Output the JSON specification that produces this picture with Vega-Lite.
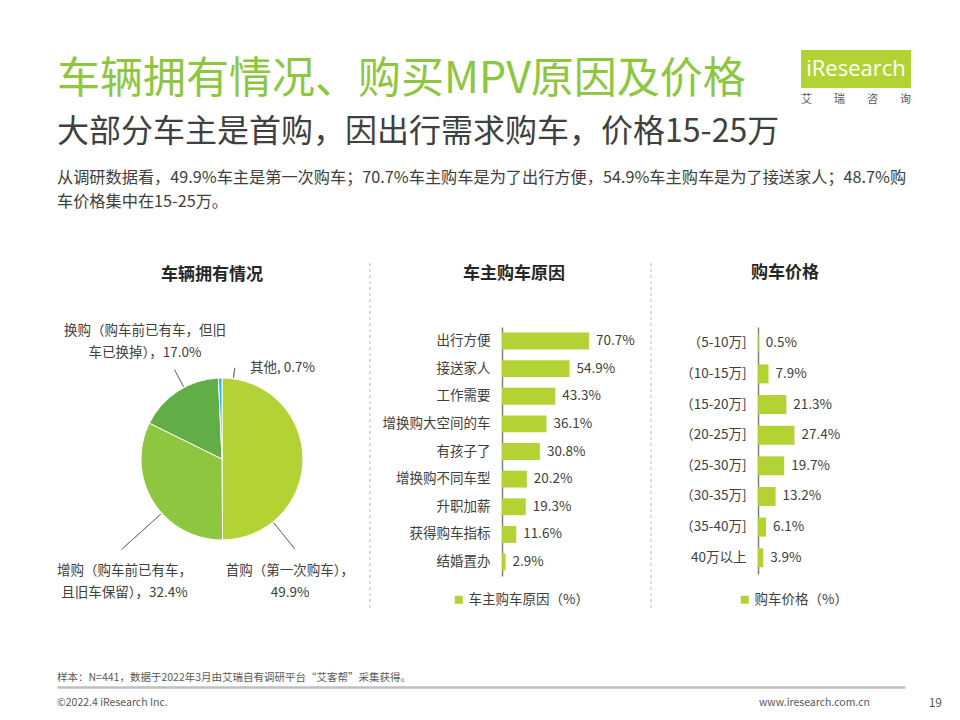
{
  "$schema": "https://vega.github.io/schema/vega-lite/v6.json",
  "padding": {"left": 56, "top": 50, "right": 0, "bottom": 0},
  "background": "white",
  "config": {
    "font": "Noto Sans CJK SC",
    "view": {"stroke": null},
    "axis": {"grid": false}
  },
  "datasets": {
    "ownership": [
      {"类型": "首购", "占比": 0.499, "序": 1, "标签": "首购（第一次购车），\n49.9%"},
      {"类型": "增购", "占比": 0.324, "序": 2, "标签": "增购（购车前已有车，\n且旧车保留），32.4%"},
      {"类型": "换购", "占比": 0.170, "序": 3, "标签": "换购（购车前已有车，但旧\n车已换掉），17.0%"},
      {"类型": "其他", "占比": 0.007, "序": 4, "标签": "其他, 0.7%"}
    ],
    "reasons": [
      {"原因": "出行方便", "占比": 0.707},
      {"原因": "接送家人", "占比": 0.549},
      {"原因": "工作需要", "占比": 0.433},
      {"原因": "增换购大空间的车", "占比": 0.361},
      {"原因": "有孩子了", "占比": 0.308},
      {"原因": "增换购不同车型", "占比": 0.202},
      {"原因": "升职加薪", "占比": 0.193},
      {"原因": "获得购车指标", "占比": 0.116},
      {"原因": "结婚置办", "占比": 0.029}
    ],
    "prices": [
      {"价格": "（5-10万]", "占比": 0.005},
      {"价格": "（10-15万]", "占比": 0.079},
      {"价格": "（15-20万]", "占比": 0.213},
      {"价格": "（20-25万]", "占比": 0.274},
      {"价格": "（25-30万]", "占比": 0.197},
      {"价格": "（30-35万]", "占比": 0.132},
      {"价格": "（35-40万]", "占比": 0.061},
      {"价格": "40万以上", "占比": 0.039}
    ],
    "logo": [{"品牌": "iResearch"}],
    "footer": [
      {"类": "版权", "位置": "左", "文字": "©2022.4 iResearch Inc."},
      {"类": "网址", "位置": "右", "文字": "www.iresearch.com.cn"},
      {"类": "页码", "位置": "右", "文字": "19"}
    ],
    "blank": [{}]
  },
  "resolve": {"scale": {"color": "independent"}, "legend": {"color": "independent"}},
  "spacing": 22,
  "vconcat": [
    {
      "spacing": 15,
      "resolve": {"scale": {"color": "independent"}, "legend": {"color": "independent"}},
      "hconcat": [
        {
          "data": {"values": []},
          "mark": "text",
          "width": 729,
          "height": 1,
          "title": {
            "text": "车辆拥有情况、购买MPV原因及价格",
            "subtitle": "大部分车主是首购，因出行需求购车，价格15-25万",
            "orient": "bottom",
            "anchor": "start",
            "frame": "group",
            "fontSize": 43,
            "fontWeight": "normal",
            "color": "#8DC63F",
            "subtitleFontSize": 32,
            "subtitleFontWeight": "normal",
            "subtitleColor": "#404040",
            "subtitlePadding": 15,
            "offset": 8
          }
        },
        {
          "width": 110,
          "height": 38,
          "data": {"name": "logo"},
          "title": {
            "text": "艾　　瑞　　咨　　询",
            "orient": "bottom",
            "anchor": "start",
            "frame": "group",
            "fontSize": 11,
            "fontWeight": "normal",
            "color": "#595959",
            "offset": 6
          },
          "layer": [
            {"mark": {"type": "rect", "color": "#B3D334"}, "encoding": {}},
            {
              "mark": {"type": "text", "color": "#FFFFFF", "fontSize": 22, "font": "Open Sans", "align": "center", "baseline": "middle"},
              "encoding": {"text": {"field": "品牌"}}
            }
          ]
        }
      ]
    },
    {
      "spacing": 60,
      "resolve": {"scale": {"color": "independent"}, "legend": {"color": "independent"}},
      "vconcat": [
        {
          "title": {
            "text": [
              "从调研数据看，49.9%车主是第一次购车；70.7%车主购车是为了出行方便，54.9%车主购车是为了接送家人；48.7%购",
              "车价格集中在15-25万。"
            ],
            "anchor": "start",
            "fontSize": 16.2,
            "fontWeight": "normal",
            "color": "#404040",
            "lineHeight": 24,
            "offset": 52
          },
          "spacing": 27,
          "resolve": {"scale": {"color": "independent"}, "legend": {"color": "independent"}},
          "hconcat": [
            {
              "spacing": -5,
              "align": "none",
              "resolve": {"scale": {"color": "independent"}, "legend": {"color": "independent"}},
              "hconcat": [
                {
                  "spacing": -18,
                  "align": "none",
                  "resolve": {"scale": {"color": "independent"}, "legend": {"color": "independent"}},
                  "hconcat": [
                    {
                      "width": 330,
                      "height": 264,
                      "data": {"name": "ownership"},
                      "transform": [
                        {"stack": "占比", "groupby": [], "sort": [{"field": "序", "order": "ascending"}], "as": ["始", "终"]}
                      ],
                      "title": {"text": "车辆拥有情况", "fontSize": 17, "fontWeight": "bold", "color": "#262626", "frame": "group", "anchor": "middle", "dx": -10, "offset": 40},
                      "encoding": {
                        "theta": {"field": "始", "type": "quantitative", "stack": false, "scale": {"domain": [0, 1]}}
                      },
                      "layer": [
                        {
                          "mark": {"type": "arc", "outerRadius": 81, "stroke": "#FFFFFF", "strokeWidth": 1},
                          "encoding": {
                            "theta2": {"field": "终"},
                            "color": {
                              "field": "类型",
                              "type": "nominal",
                              "scale": {"domain": ["首购", "增购", "换购", "其他"], "range": ["#B3D334", "#8DC63F", "#62AD45", "#29B6E3"]},
                              "legend": null
                            }
                          }
                        },
                        {
                          "transform": [{"filter": "datum['类型'] === '首购'"}],
                          "mark": {"type": "arc", "radius": 116, "radius2": 82, "padAngle": 3.1416, "thetaOffset": 0.8933, "theta2Offset": 0.8933, "fillOpacity": 0, "stroke": "#7F7F7F", "strokeWidth": 1},
                          "encoding": {"theta2": {"field": "终"}}
                        },
                        {
                          "transform": [{"filter": "datum['类型'] === '增购'"}],
                          "mark": {"type": "arc", "radius": 135, "radius2": 82, "padAngle": 3.1416, "thetaOffset": -0.1738, "theta2Offset": -0.1738, "fillOpacity": 0, "stroke": "#7F7F7F", "strokeWidth": 1},
                          "encoding": {"theta2": {"field": "终"}}
                        },
                        {
                          "transform": [{"filter": "datum['类型'] === '换购'"}],
                          "mark": {"type": "arc", "radius": 101, "radius2": 82, "padAngle": 3.1416, "thetaOffset": 0.0894, "theta2Offset": 0.0894, "fillOpacity": 0, "stroke": "#7F7F7F", "strokeWidth": 1},
                          "encoding": {"theta2": {"field": "终"}}
                        },
                        {
                          "transform": [{"filter": "datum['类型'] === '其他'"}],
                          "mark": {"type": "arc", "radius": 92, "radius2": 82, "padAngle": 3.1416, "thetaOffset": 0.1616, "theta2Offset": 0.1616, "fillOpacity": 0, "stroke": "#7F7F7F", "strokeWidth": 1},
                          "encoding": {"theta2": {"field": "终"}}
                        },
                        {
                          "transform": [{"filter": "datum['类型'] === '首购'"}],
                          "mark": {"type": "text", "radius": 131, "thetaOffset": 2.596, "align": "center", "baseline": "middle", "fontSize": 13.5, "color": "#404040", "lineBreak": "\n", "lineHeight": 22},
                          "encoding": {"text": {"field": "标签"}}
                        },
                        {
                          "transform": [{"filter": "datum['类型'] === '增购'"}],
                          "mark": {"type": "text", "radius": 148.5, "thetaOffset": 0.7226, "align": "center", "baseline": "middle", "fontSize": 13.5, "color": "#404040", "lineBreak": "\n", "lineHeight": 22},
                          "encoding": {"text": {"field": "标签"}}
                        },
                        {
                          "transform": [{"filter": "datum['类型'] === '换购'"}],
                          "mark": {"type": "text", "radius": 149.4, "thetaOffset": 0.5706, "align": "center", "baseline": "middle", "fontSize": 13.5, "color": "#404040", "lineBreak": "\n", "lineHeight": 22},
                          "encoding": {"text": {"field": "标签"}}
                        },
                        {
                          "transform": [{"filter": "datum['类型'] === '其他'"}],
                          "mark": {"type": "text", "radius": 95.2, "thetaOffset": 0.3424, "align": "left", "baseline": "middle", "fontSize": 13.5, "color": "#404040"},
                          "encoding": {"text": {"field": "标签"}}
                        }
                      ]
                    },
                    {
                      "width": 1,
                      "height": 249,
                      "data": {"name": "blank"},
                      "mark": {"type": "rule", "color": "#BFBFBF", "strokeDash": [3, 3], "strokeWidth": 1},
                      "encoding": {
                        "x": {"datum": 0, "type": "quantitative", "scale": {"domain": [0, 1]}, "axis": null},
                        "y": {"datum": 313, "type": "quantitative", "scale": {"domain": [0, 249], "nice": false, "zero": false}, "axis": null},
                        "y2": {"datum": -35}
                      }
                    }
                  ]
                },
                {
                  "spacing": 14,
                  "resolve": {"scale": {"color": "independent"}, "legend": {"color": "independent"}},
                  "hconcat": [
                    {
                      "width": 134,
                      "height": 249,
                      "data": {"name": "reasons"},
                      "title": {"text": "车主购车原因", "fontSize": 17, "fontWeight": "bold", "color": "#262626", "anchor": "middle", "dx": -55, "offset": 44},
                      "encoding": {
                        "y": {
                          "field": "原因",
                          "type": "nominal",
                          "sort": null,
                          "scale": {"paddingInner": 0.39, "paddingOuter": 0.2},
                          "axis": {"title": null, "ticks": false, "domainColor": "#7F7F7F", "domainWidth": 1.5, "labelFontSize": 13.5, "labelColor": "#404040", "labelPadding": 12}
                        },
                        "x": {"field": "占比", "type": "quantitative", "scale": {"domain": [0, 1.0894], "nice": false}, "axis": null}
                      },
                      "layer": [
                        {
                          "mark": {"type": "bar"},
                          "encoding": {
                            "color": {
                              "datum": "车主购车原因（%）",
                              "scale": {"range": ["#B3D334"]},
                              "legend": {"orient": "none", "legendX": -50, "legendY": 266, "direction": "horizontal", "title": null, "symbolType": "square", "symbolSize": 64, "symbolStrokeWidth": 0, "labelFontSize": 13.5, "labelColor": "#404040", "labelOffset": 3, "padding": 0}
                            }
                          }
                        },
                        {
                          "mark": {"type": "text", "align": "left", "baseline": "middle", "dx": 7, "fontSize": 13.5, "color": "#404040"},
                          "encoding": {"text": {"field": "占比", "type": "quantitative", "format": ".1%"}}
                        }
                      ]
                    },
                    {
                      "width": 1,
                      "height": 249,
                      "data": {"name": "blank"},
                      "mark": {"type": "rule", "color": "#BFBFBF", "strokeDash": [3, 3], "strokeWidth": 1},
                      "encoding": {
                        "x": {"datum": 0, "type": "quantitative", "scale": {"domain": [0, 1]}, "axis": null},
                        "y": {"datum": 313, "type": "quantitative", "scale": {"domain": [0, 249], "nice": false, "zero": false}, "axis": null},
                        "y2": {"datum": -35}
                      }
                    }
                  ]
                }
              ]
            },
            {
              "width": 130,
              "height": 247,
              "data": {"name": "prices"},
              "title": {"text": "购车价格", "fontSize": 17, "fontWeight": "bold", "color": "#262626", "anchor": "middle", "dx": -38, "offset": 45},
              "encoding": {
                "y": {
                  "field": "价格",
                  "type": "nominal",
                  "sort": null,
                  "scale": {"paddingInner": 0.38, "paddingOuter": 0.22},
                  "axis": {"title": null, "ticks": false, "domainColor": "#7F7F7F", "domainWidth": 1.5, "labelFontSize": 13.5, "labelColor": "#404040", "labelPadding": 12}
                },
                "x": {"field": "占比", "type": "quantitative", "scale": {"domain": [0, 0.977], "nice": false}, "axis": null}
              },
              "layer": [
                {
                  "mark": {"type": "bar"},
                  "encoding": {
                    "color": {
                      "datum": "购车价格（%）",
                      "scale": {"range": ["#B3D334"]},
                      "legend": {"orient": "none", "legendX": -20, "legendY": 266, "direction": "horizontal", "title": null, "symbolType": "square", "symbolSize": 64, "symbolStrokeWidth": 0, "labelFontSize": 13.5, "labelColor": "#404040", "labelOffset": 3, "padding": 0}
                    }
                  }
                },
                {
                  "mark": {"type": "text", "align": "left", "baseline": "middle", "dx": 7, "fontSize": 13.5, "color": "#404040"},
                  "encoding": {"text": {"field": "占比", "type": "quantitative", "format": ".1%"}}
                }
              ]
            }
          ]
        },
        {
          "width": 848,
          "height": 32,
          "data": {"name": "footer"},
          "title": {
            "text": "样本：N=441，数据于2022年3月由艾瑞自有调研平台“艾客帮”采集获得。",
            "anchor": "start",
            "frame": "group",
            "fontSize": 10.5,
            "fontWeight": "normal",
            "color": "#595959",
            "offset": 4
          },
          "encoding": {
            "x": {
              "field": "位置",
              "type": "nominal",
              "scale": {"type": "point", "domain": ["左", "右"], "padding": 0},
              "axis": {"orient": "top", "labels": false, "ticks": false, "title": null, "domainColor": "#BFBFBF", "domainWidth": 2.5}
            }
          },
          "layer": [
            {
              "transform": [{"filter": "datum['类'] === '版权'"}],
              "mark": {"type": "text", "align": "left", "baseline": "middle", "fontSize": 10.5, "color": "#595959"},
              "encoding": {"text": {"field": "文字"}}
            },
            {
              "transform": [{"filter": "datum['类'] === '网址'"}],
              "mark": {"type": "text", "align": "right", "baseline": "middle", "dx": -35, "fontSize": 10.5, "color": "#595959"},
              "encoding": {"text": {"field": "文字"}}
            },
            {
              "transform": [{"filter": "datum['类'] === '页码'"}],
              "mark": {"type": "text", "align": "right", "baseline": "middle", "dx": 37, "fontSize": 12, "color": "#595959"},
              "encoding": {"text": {"field": "文字"}}
            }
          ]
        }
      ]
    }
  ]
}
